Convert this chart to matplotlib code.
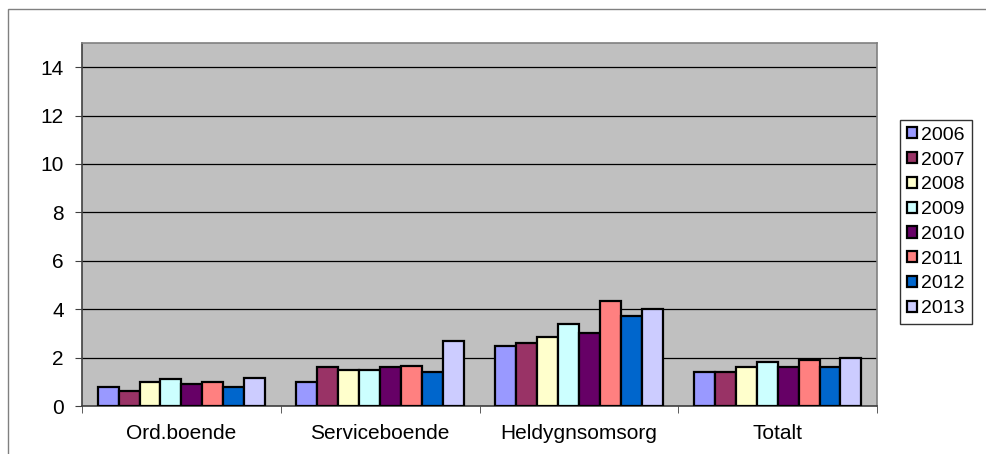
import numpy as np
import matplotlib.pyplot as plt
from matplotlib.patches import Rectangle

plt.rcParams['font.family'] = ['Liberation Sans', 'DejaVu Sans']

categories = ["Ord.boende", "Serviceboende", "Heldygnsomsorg", "Totalt"]
years = ["2006", "2007", "2008", "2009", "2010", "2011", "2012", "2013"]
values = {
    "2006": [0.8, 1.0, 2.5, 1.4],
    "2007": [0.6, 1.6, 2.6, 1.4],
    "2008": [1.0, 1.5, 2.85, 1.6],
    "2009": [1.1, 1.5, 3.4, 1.8],
    "2010": [0.9, 1.6, 3.0, 1.6],
    "2011": [1.0, 1.65, 4.35, 1.9],
    "2012": [0.8, 1.4, 3.7, 1.6],
    "2013": [1.15, 2.7, 4.0, 2.0],
}
colors = ["#9999FF", "#993366", "#FFFFCC", "#CCFFFF",
          "#660066", "#FF8080", "#0066CC", "#CCCCFF"]

fig = plt.figure(figsize=(9.87, 4.54), dpi=100)
ax = fig.add_axes([0.0831, 0.1057, 0.8055, 0.7996])
ax.set_facecolor("#C0C0C0")

x = np.arange(len(categories))
w = 1 / 9.5
for i, yr in enumerate(years):
    ax.bar(x + (i - 3.5) * w, values[yr], w, color=colors[i],
           edgecolor="black", linewidth=1.6, label=yr, zorder=3)

ax.set_xlim(-0.5, len(categories) - 0.5)
ax.set_ylim(0, 15)
ax.set_yticks(range(0, 15, 2))
ax.yaxis.grid(True, color="black", linewidth=0.9, zorder=1)
ax.set_xticks(x)
ax.set_xticklabels(categories, fontsize=15)
ax.set_xticks(np.arange(-0.5, len(categories)), minor=True)
ax.tick_params(axis="x", which="major", length=0, pad=13)
ax.tick_params(axis="x", which="minor", length=5, direction="out", color="#404040")
ax.tick_params(axis="y", length=5, direction="out", labelsize=15, color="#404040", pad=8)

for s in ["top", "right"]:
    ax.spines[s].set_color("#808080")
    ax.spines[s].set_linewidth(1.2)
for s in ["left", "bottom"]:
    ax.spines[s].set_color("#404040")
    ax.spines[s].set_linewidth(1.2)

leg = ax.legend(loc="upper left", bbox_to_anchor=(900 / 987, 1 - 120 / 454),
                bbox_transform=fig.transFigure, fontsize=14,
                frameon=True, fancybox=False, edgecolor="black",
                handlelength=0.5, handleheight=0.5, handletextpad=0.25,
                labelspacing=0.4, borderpad=0.35, borderaxespad=0)
leg.get_frame().set_linewidth(1.0)

# thin outer frame of the chart area
fig.patches.append(Rectangle((8 / 987, -0.05), 1.2, 1 - 9 / 454 + 0.05,
                             transform=fig.transFigure, fill=False,
                             edgecolor="#808080", linewidth=1.0))

fig.savefig("out.png", dpi=100)
